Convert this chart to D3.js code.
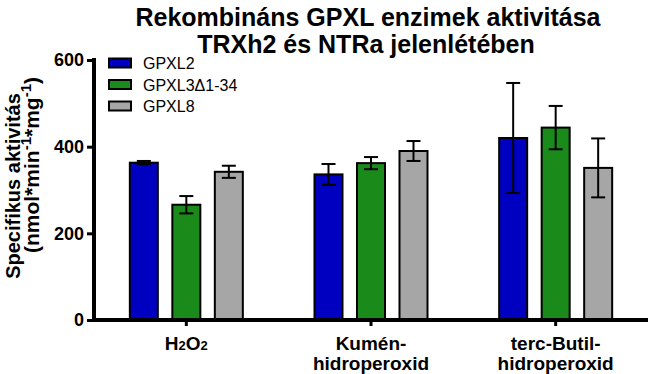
<!DOCTYPE html>
<html>
<head>
<meta charset="utf-8">
<script src="https://cdn.jsdelivr.net/npm/d3@7"></script>
<style>
  body { margin: 0; background: #fff; }
  svg { display: block; font-family: "Liberation Sans", Arial, sans-serif; }
</style>
</head>
<body>
<svg id="canvas" width="650" height="374"></svg>
<script>
// chart values
var categories = ['H2O2', 'Kumén-hidroperoxid', 'terc-Butil-hidroperoxid']
var seriesNames = ['GPXL2', 'GPXL3Δ1-34', 'GPXL8']
var seriesColors = ['#0000c0', '#1a8a1a', '#a6a6a6']
var gpxl2 = [363, 336, 420]
var gpxl2Err = [4, 24, 127]
var gpxl3 = [266, 362, 444]
var gpxl3Err = [20, 14, 50]
var gpxl8 = [342, 390, 351]
var gpxl8Err = [14, 23, 68]
var yTicks = [0, 200, 400, 600]

var values = [gpxl2, gpxl3, gpxl8]
var errors = [gpxl2Err, gpxl3Err, gpxl8Err]

var svg = d3.select('#canvas')

var x = d3.scaleBand().domain(categories).range([94, 648]).padding(0)
var xs = d3.scalePoint().domain(seriesNames).range([-42.5, 42.5])
var y = d3.scaleLinear().domain([0, 600]).range([320, 60])
var barW = 28

// title
svg.append('text')
  .attr('x', 368).attr('y', 26)
  .attr('text-anchor', 'middle')
  .style('font-size', '25px').style('font-weight', 'bold')
  .text('Rekombináns GPXL enzimek aktivitása')
svg.append('text')
  .attr('x', 366).attr('y', 53)
  .attr('text-anchor', 'middle')
  .style('font-size', '25px').style('font-weight', 'bold')
  .text('TRXh2 és NTRa jelenlétében')

// bars + error bars
seriesNames.forEach(function(s, si) {
  var rows = categories.map(function(c, ci) {
    return { cat: c, v: values[si][ci], e: errors[si][ci] }
  })
  var g = svg.append('g')
  g.selectAll('rect')
    .data(rows)
    .enter()
    .append('rect')
    .attr('x', function(d) { return x(d.cat) + x.bandwidth() / 2 + xs(s) - barW / 2 })
    .attr('y', function(d) { return y(d.v) })
    .attr('width', barW)
    .attr('height', function(d) { return y(0) - y(d.v) })
    .attr('fill', seriesColors[si])
    .attr('stroke', '#000')
    .attr('stroke-width', 2)

  rows.forEach(function(d) {
    var cx = x(d.cat) + x.bandwidth() / 2 + xs(s)
    g.append('line')
      .attr('x1', cx).attr('x2', cx)
      .attr('y1', y(d.v + d.e)).attr('y2', y(d.v - d.e))
      .attr('stroke', '#000').attr('stroke-width', 2)
    ;[d.v + d.e, d.v - d.e].forEach(function(t) {
      g.append('line')
        .attr('x1', cx - 7).attr('x2', cx + 7)
        .attr('y1', y(t)).attr('y2', y(t))
        .attr('stroke', '#000').attr('stroke-width', 2)
    })
  })
})

// y axis
var yAxis = svg.append('g')
  .attr('transform', 'translate(94,0)')
  .call(d3.axisLeft(y).tickValues(yTicks).tickSize(7).tickPadding(3))
yAxis.select('.domain').attr('stroke', '#000').attr('stroke-width', 4)
  .attr('d', 'M0,58V322')
yAxis.selectAll('.tick line').attr('stroke-width', 3)
yAxis.selectAll('.tick text')
  .style('font-size', '18px').style('font-weight', 'bold')
  .style('font-family', '"Liberation Sans", Arial, sans-serif')
  .attr('fill', '#000')

// x axis
var xAxis = svg.append('g')
  .attr('transform', 'translate(0,320)')
  .call(d3.axisBottom(x).tickSize(6).tickFormat(''))
xAxis.select('.domain').attr('stroke', '#000').attr('stroke-width', 4)
  .attr('d', 'M92,0H648')
xAxis.selectAll('.tick line').attr('stroke-width', 3)

// x category labels
var labelLines = {
  'H2O2': [[['H', 0], ['2', 1], ['O', 0], ['2', 1]]],
  'Kumén-hidroperoxid': [[['Kumén-', 0]], [['hidroperoxid', 0]]],
  'terc-Butil-hidroperoxid': [[['terc-Butil-', 0]], [['hidroperoxid', 0]]]
}
categories.forEach(function(c) {
  var cx = x(c) + x.bandwidth() / 2
  labelLines[c].forEach(function(line, li) {
    var t = svg.append('text')
      .attr('x', cx).attr('y', 350 + li * 20)
      .attr('text-anchor', 'middle')
      .style('font-size', '19px').style('font-weight', 'bold')
    line.forEach(function(p) {
      t.append('tspan')
        .style('font-size', p[1] ? '13px' : '19px')
        .text(p[0])
    })
  })
})

// y axis title
var yt = svg.append('g').attr('transform', 'translate(20,0) rotate(-90)')
yt.append('text')
  .attr('x', -186)
  .attr('text-anchor', 'middle')
  .style('font-size', '20px').style('font-weight', 'bold')
  .text('Specifikus aktivitás')
var yt2 = yt.append('text')
  .attr('x', -165).attr('y', 19)
  .attr('text-anchor', 'middle')
  .style('font-size', '21px').style('font-weight', 'bold')
yt2.append('tspan').text('(nmol*min')
yt2.append('tspan').attr('dy', -8).style('font-size', '15px').text('-1')
yt2.append('tspan').attr('dy', 8).text('*mg')
yt2.append('tspan').attr('dy', -8).style('font-size', '15px').text('-1')
yt2.append('tspan').attr('dy', 8).text(')')

// legend
var legend = svg.append('g')
seriesNames.forEach(function(s, i) {
  var ly = 63 + i * 21.5
  legend.append('rect')
    .attr('x', 109).attr('y', ly - 4.5)
    .attr('width', 22).attr('height', 9)
    .attr('fill', seriesColors[i])
    .attr('stroke', '#000').attr('stroke-width', 2)
  legend.append('text')
    .attr('x', 143).attr('y', ly + 6)
    .style('font-size', '16px')
    .text(s)
})
</script>
</body>
</html>
